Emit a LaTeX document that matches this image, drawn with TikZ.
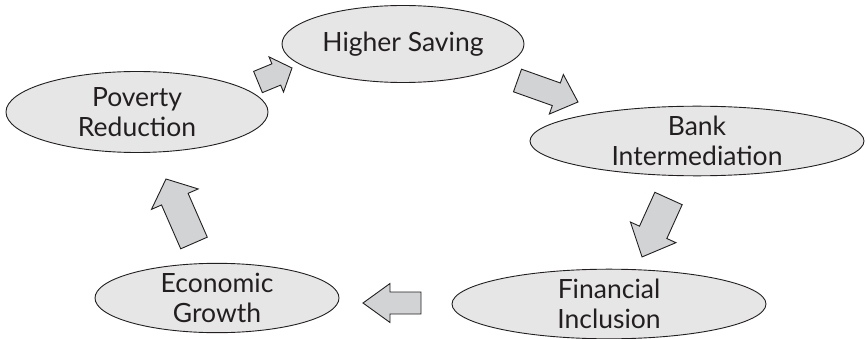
\documentclass[tikz,border=0pt]{standalone}
\usepackage{fontspec}
\setmainfont{Lato}
\usetikzlibrary{shapes.geometric,calc}
\definecolor{ellfill}{HTML}{E6E6E7}
\definecolor{arrfill}{HTML}{D2D3D5}
\definecolor{txt}{HTML}{231F20}
\tikzset{
  bubble/.style={ellipse, draw=txt, line width=0.9pt, fill=ellfill, inner sep=0pt,
    align=center, text=txt, font=\fontsize{26.5}{29.5}\selectfont},
  barrowstyle/.style={draw=txt, line width=0.9pt, fill=arrfill, line join=miter}
}
% tail, tip, shaft half width, head half width, head length (all in px = pt)
\newcommand\blockarrow[5]{%
  \draw[barrowstyle] let \p1=(#1), \p2=(#2),
    \n1={atan2(\y2-\y1,\x2-\x1)}, \n2={veclen(\x2-\x1,\y2-\y1)} in
    {[shift={(\p1)}, rotate=\n1]
     (0pt,-#3pt) -- ({\n2-#5pt},-#3pt) -- ({\n2-#5pt},-#4pt) -- (\n2,0pt)
     -- ({\n2-#5pt},#4pt) -- ({\n2-#5pt},#3pt) -- (0pt,#3pt) -- cycle};}
\begin{document}
\begin{tikzpicture}[x=1pt,y=-1pt]
\useasboundingbox (0,0) rectangle (866,339);
\node[bubble, minimum width=242pt, minimum height=77pt] (hs) at (403,44) {Higher Saving};
\node[bubble, minimum width=262pt, minimum height=81pt] (pr) at (137,112) {Poverty\\Reduction};
\node[bubble, minimum width=334pt, minimum height=68pt] (bi) at (697,141) {Bank\\Intermediation};
\node[bubble, minimum width=244pt, minimum height=69pt] (eg) at (217,298) {Economic\\Growth};
\node[bubble, minimum width=314pt, minimum height=68pt] (fi) at (609,304) {Financial\\Inclusion};
\coordinate (a1t) at (258,82);  \coordinate (a1h) at (292,68);
\coordinate (a2t) at (517.5,80.5); \coordinate (a2h) at (578,102);
\coordinate (a3t) at (668.5,198.5); \coordinate (a3h) at (642,257);
\coordinate (a4t) at (421,303); \coordinate (a4h) at (363,303);
\coordinate (a5t) at (194,243); \coordinate (a5h) at (166,179);
\blockarrow{a1t}{a1h}{11.5}{19}{17}
\blockarrow{a2t}{a2h}{12}{21}{23}
\blockarrow{a3t}{a3h}{15}{25}{27}
\blockarrow{a4t}{a4h}{11}{19.5}{27}
\blockarrow{a5t}{a5h}{14.5}{25.5}{22}
\end{tikzpicture}
\end{document}
